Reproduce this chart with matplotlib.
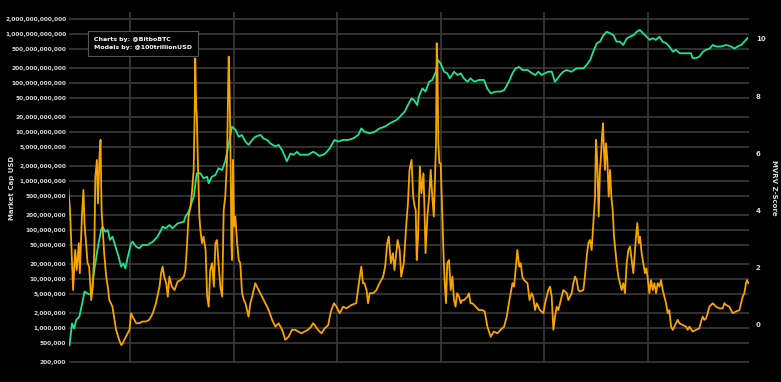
import matplotlib
matplotlib.use("Agg")
import matplotlib.pyplot as plt
import matplotlib.ticker as mticker
import numpy as np

# Market cap (USD), decimal year
cap_years = [
    2010.83, 2010.88, 2010.92, 2010.96, 2011.02, 2011.09, 2011.12, 2011.18, 2011.25, 2011.31,
    2011.37, 2011.44, 2011.47, 2011.52, 2011.57, 2011.61, 2011.66, 2011.72, 2011.76, 2011.83,
    2011.87, 2011.91, 2011.95, 2012.02, 2012.05, 2012.12, 2012.18, 2012.24, 2012.34, 2012.44,
    2012.53, 2012.60, 2012.63, 2012.69, 2012.76, 2012.82, 2012.92, 2013.04, 2013.07, 2013.13,
    2013.23, 2013.29, 2013.36, 2013.42, 2013.49, 2013.52, 2013.58, 2013.65, 2013.71, 2013.78,
    2013.84, 2013.91, 2013.97, 2014.04, 2014.10, 2014.16, 2014.23, 2014.29, 2014.36, 2014.42,
    2014.52, 2014.58, 2014.65, 2014.71, 2014.81, 2014.87, 2014.94, 2015.03, 2015.10, 2015.16,
    2015.23, 2015.28, 2015.34, 2015.44, 2015.54, 2015.60, 2015.66, 2015.76, 2015.86, 2015.95,
    2016.02, 2016.11, 2016.21, 2016.31, 2016.41, 2016.47, 2016.53, 2016.63, 2016.73, 2016.82,
    2016.92, 2017.02, 2017.08, 2017.15, 2017.21, 2017.31, 2017.37, 2017.44, 2017.49, 2017.55,
    2017.58, 2017.65, 2017.71, 2017.78, 2017.84, 2017.91, 2017.95, 2018.00, 2018.07, 2018.13,
    2018.18, 2018.26, 2018.33, 2018.39, 2018.45, 2018.52, 2018.58, 2018.65, 2018.74, 2018.84,
    2018.90, 2018.97, 2019.07, 2019.16, 2019.23, 2019.32, 2019.39, 2019.45, 2019.52, 2019.58,
    2019.68, 2019.77, 2019.83, 2019.89, 2019.95, 2020.02, 2020.08, 2020.15, 2020.21, 2020.24,
    2020.31, 2020.37, 2020.44, 2020.53, 2020.63, 2020.70, 2020.76, 2020.82, 2020.89, 2020.95,
    2021.02, 2021.08, 2021.15, 2021.21, 2021.28, 2021.34, 2021.40, 2021.47, 2021.53, 2021.60,
    2021.66, 2021.73, 2021.79, 2021.85, 2021.95, 2022.04, 2022.10, 2022.16, 2022.23, 2022.29,
    2022.36, 2022.42, 2022.49, 2022.55, 2022.62, 2022.68, 2022.74, 2022.84, 2022.87, 2022.94,
    2023.00, 2023.07, 2023.13, 2023.20, 2023.26, 2023.32, 2023.42, 2023.52, 2023.61, 2023.68,
    2023.74, 2023.81, 2023.87, 2023.93,
]
market_cap = [
    4.4e5, 1.23e6, 9.7e5, 1.44e6, 1.68e6, 3.7e6, 5.5e6, 5.0e6, 4.7e6, 1.5e7,
    3.9e7, 9.9e7, 1.16e8, 9.1e7, 9.9e7, 6.2e7, 7.2e7, 4.5e7, 3.3e7, 1.77e7,
    2.07e7, 1.63e7, 2.6e7, 5.3e7, 5.7e7, 4.5e7, 4.2e7, 4.9e7, 4.9e7, 5.7e7,
    7.2e7, 9.9e7, 1.16e8, 1.07e8, 1.25e8, 1.07e8, 1.35e8, 1.46e8, 1.85e8, 2.3e8,
    4.7e8, 1.42e9, 1.42e9, 1.12e9, 1.21e9, 8.9e8, 1.21e9, 1.31e9, 1.8e9, 1.66e9,
    2.5e9, 5.8e9, 1.27e10, 1.09e10, 7.9e9, 8.6e9, 6.3e9, 5.4e9, 6.8e9, 7.9e9,
    8.6e9, 7.3e9, 6.8e9, 5.8e9, 5.0e9, 5.4e9, 4.2e9, 2.5e9, 3.6e9, 3.4e9,
    3.9e9, 3.4e9, 3.4e9, 3.4e9, 3.9e9, 3.6e9, 3.2e9, 3.5e9, 4.6e9, 6.8e9,
    6.3e9, 6.8e9, 6.8e9, 7.3e9, 8.6e9, 1.17e10, 1.0e10, 9.3e9, 1.0e10, 1.17e10,
    1.27e10, 1.49e10, 1.6e10, 1.74e10, 2.0e10, 2.6e10, 3.5e10, 4.8e10, 4.4e10, 3.5e10,
    5.2e10, 7.7e10, 6.6e10, 1.05e11, 1.14e11, 1.68e11, 2.9e11, 2.5e11, 1.68e11, 1.56e11,
    1.23e11, 1.68e11, 1.44e11, 1.56e11, 1.23e11, 1.05e11, 1.23e11, 1.05e11, 1.14e11, 1.14e11,
    7.7e10, 6.1e10, 6.6e10, 6.6e10, 7.1e10, 1.05e11, 1.56e11, 1.97e11, 2.1e11, 1.82e11,
    1.82e11, 1.56e11, 1.44e11, 1.68e11, 1.44e11, 1.56e11, 1.68e11, 1.68e11, 1.05e11, 1.14e11,
    1.44e11, 1.68e11, 1.82e11, 1.68e11, 1.97e11, 1.97e11, 1.97e11, 2.3e11, 2.9e11, 4.3e11,
    6.4e11, 6.9e11, 9.4e11, 1.1e12, 1.02e12, 9.4e11, 6.9e11, 6.9e11, 5.9e11, 8.1e11,
    8.7e11, 9.4e11, 1.1e12, 1.19e12, 9.4e11, 7.5e11, 8.1e11, 7.5e11, 8.7e11, 6.9e11,
    6.4e11, 5.5e11, 4.3e11, 4.7e11, 4.0e11, 4.0e11, 4.0e11, 4.0e11, 3.2e11, 3.2e11,
    3.4e11, 4.3e11, 4.7e11, 5.0e11, 5.9e11, 5.5e11, 5.5e11, 5.9e11, 5.5e11, 5.0e11,
    5.5e11, 5.9e11, 6.9e11, 8.1e11,
]

# MVRV Z-Score, decimal year
z_years = [
    2010.81, 2010.84, 2010.88, 2010.90, 2010.94, 2010.97, 2011.01, 2011.03, 2011.07, 2011.10,
    2011.12, 2011.15, 2011.18, 2011.21, 2011.25, 2011.28, 2011.31, 2011.33, 2011.36, 2011.38,
    2011.41, 2011.43, 2011.45, 2011.47, 2011.50, 2011.54, 2011.57, 2011.60, 2011.63, 2011.66,
    2011.70, 2011.73, 2011.79, 2011.83, 2011.86, 2011.89, 2011.92, 2011.99, 2012.02, 2012.05,
    2012.12, 2012.18, 2012.24, 2012.31, 2012.37, 2012.44, 2012.50, 2012.57, 2012.60, 2012.63,
    2012.66, 2012.70, 2012.73, 2012.76, 2012.81, 2012.86, 2012.92, 2012.98, 2013.04, 2013.07,
    2013.10, 2013.13, 2013.17, 2013.20, 2013.23, 2013.25, 2013.26, 2013.28, 2013.29, 2013.31,
    2013.34, 2013.36, 2013.39, 2013.42, 2013.46, 2013.49, 2013.52, 2013.55, 2013.585, 2013.62,
    2013.65, 2013.68, 2013.71, 2013.745, 2013.78, 2013.81, 2013.84, 2013.875, 2013.894, 2013.907,
    2013.926, 2013.945, 2013.958, 2013.971, 2013.99, 2014.01, 2014.035, 2014.07, 2014.10, 2014.13,
    2014.165, 2014.20, 2014.23, 2014.26, 2014.29, 2014.325, 2014.36, 2014.39, 2014.42, 2014.485,
    2014.55, 2014.615, 2014.68, 2014.745, 2014.81, 2014.87, 2014.94, 2015.00, 2015.065, 2015.13,
    2015.195, 2015.25, 2015.31, 2015.375, 2015.44, 2015.50, 2015.535, 2015.57, 2015.63, 2015.70,
    2015.76, 2015.83, 2015.86, 2015.89, 2015.94, 2015.99, 2016.05, 2016.12, 2016.18, 2016.28,
    2016.37, 2016.44, 2016.47, 2016.50, 2016.53, 2016.57, 2016.60, 2016.63, 2016.70, 2016.76,
    2016.82, 2016.89, 2016.93, 2016.97, 2017.00, 2017.04, 2017.08, 2017.11, 2017.17, 2017.21,
    2017.24, 2017.29, 2017.34, 2017.37, 2017.40, 2017.44, 2017.47, 2017.50, 2017.52, 2017.54,
    2017.565, 2017.60, 2017.63, 2017.67, 2017.69, 2017.71, 2017.746, 2017.78, 2017.81, 2017.84,
    2017.87, 2017.894, 2017.913, 2017.926, 2017.939, 2017.958, 2017.977, 2018.003, 2018.03, 2018.055,
    2018.08, 2018.106, 2018.13, 2018.164, 2018.196, 2018.23, 2018.26, 2018.29, 2018.32, 2018.357,
    2018.39, 2018.42, 2018.454, 2018.52, 2018.55, 2018.58, 2018.615, 2018.68, 2018.74, 2018.81,
    2018.853, 2018.905, 2018.97, 2019.03, 2019.10, 2019.16, 2019.227, 2019.28, 2019.32, 2019.39,
    2019.42, 2019.45, 2019.484, 2019.52, 2019.55, 2019.58, 2019.613, 2019.68, 2019.72, 2019.76,
    2019.79, 2019.826, 2019.858, 2019.89, 2019.92, 2019.987, 2020.02, 2020.05, 2020.083, 2020.115,
    2020.148, 2020.18, 2020.212, 2020.244, 2020.276, 2020.31, 2020.34, 2020.373, 2020.44, 2020.47,
    2020.50, 2020.534, 2020.566, 2020.60, 2020.63, 2020.663, 2020.695, 2020.76, 2020.79, 2020.824,
    2020.856, 2020.888, 2020.92, 2020.953, 2020.985, 2021.004, 2021.017, 2021.036, 2021.056, 2021.08,
    2021.10, 2021.12, 2021.139, 2021.16, 2021.178, 2021.197, 2021.223, 2021.249, 2021.275, 2021.30,
    2021.326, 2021.352, 2021.378, 2021.403, 2021.436, 2021.468, 2021.50, 2021.532, 2021.564, 2021.597,
    2021.629, 2021.661, 2021.693, 2021.725, 2021.758, 2021.777, 2021.803, 2021.83, 2021.854, 2021.886,
    2021.919, 2021.95, 2021.975, 2022.00, 2022.035, 2022.068, 2022.10, 2022.132, 2022.164, 2022.196,
    2022.229, 2022.26, 2022.293, 2022.325, 2022.357, 2022.39, 2022.42, 2022.454, 2022.486, 2022.518,
    2022.583, 2022.615, 2022.68, 2022.744, 2022.776, 2022.808, 2022.873, 2022.937, 2023.00, 2023.034,
    2023.066, 2023.098, 2023.13, 2023.162, 2023.195, 2023.227, 2023.26, 2023.323, 2023.388, 2023.452,
    2023.484, 2023.516, 2023.58, 2023.645, 2023.71, 2023.774, 2023.806, 2023.839, 2023.87, 2023.903,
    2023.922, 2023.948,
]
z_score = [
    4.72, 4.02, 2.16, 1.22, 2.62, 1.92, 2.86, 1.81, 3.79, 4.72,
    3.56, 2.86, 2.16, 2.04, 0.87, 1.34, 2.62, 5.19, 5.77, 4.25,
    5.89, 6.47, 4.02, 3.44, 2.51, 1.69, 1.34, 0.87, 0.76, 0.64,
    0.18, -0.17, -0.52, -0.70, -0.64, -0.52, -0.41, -0.17, 0.41, 0.29,
    0.06, 0.06, 0.12, 0.12, 0.18, 0.41, 0.76, 1.34, 1.81, 2.04,
    1.69, 1.46, 0.99, 1.69, 1.34, 1.22, 1.52, 1.57, 1.69, 1.92,
    2.74, 3.79, 4.14, 4.72, 5.42, 7.52, 9.32, 7.52, 7.40, 5.77,
    3.79, 3.32, 2.86, 3.09, 2.62, 0.99, 0.64, 1.92, 2.16, 1.34,
    2.86, 2.97, 2.16, 1.34, 0.99, 4.02, 4.49, 5.77, 8.10, 9.38,
    7.98, 5.42, 2.86, 2.27, 5.77, 3.44, 3.79, 2.86, 2.27, 2.16,
    1.11, 0.87, 0.76, 0.52, 0.29, 0.76, 0.99, 1.22, 1.46, 1.22,
    0.99, 0.76, 0.52, 0.18, -0.06, 0.06, -0.17, -0.52, -0.41, -0.17,
    -0.17, -0.23, -0.29, -0.23, -0.17, -0.06, 0.06, 0.00, -0.17, -0.29,
    -0.12, 0.00, 0.29, 0.52, 0.76, 0.64, 0.41, 0.64, 0.58, 0.70,
    0.76, 1.69, 2.04, 1.46, 1.46, 1.22, 0.76, 1.11, 1.11, 1.22,
    1.46, 1.69, 2.04, 2.86, 3.09, 2.16, 2.51, 1.92, 2.97, 2.62,
    1.69, 2.16, 3.56, 4.25, 5.42, 5.77, 4.49, 4.14, 4.02, 2.27,
    3.09, 5.54, 4.60, 5.30, 4.02, 2.51, 3.79, 4.49, 5.42, 4.49,
    3.79, 5.19, 6.35, 9.85, 9.15, 6.35, 5.65, 5.65, 4.02, 2.62,
    1.46, 0.76, 2.16, 2.27, 1.22, 1.69, 0.87, 0.64, 1.11, 0.99,
    0.76, 0.87, 0.87, 0.99, 1.11, 0.76, 0.76, 0.64, 0.52, 0.52,
    0.47, -0.06, -0.41, -0.23, -0.29, -0.17, -0.06, 0.29, 0.76, 1.46,
    1.34, 1.92, 2.62, 2.04, 2.16, 1.69, 1.57, 1.46, 0.87, 1.11,
    0.99, 0.52, 0.76, 0.64, 0.52, 0.41, 0.76, 0.99, 1.22, 1.34,
    0.99, -0.17, 0.29, 0.64, 0.52, 0.76, 0.99, 1.22, 1.11, 0.87,
    0.99, 1.11, 1.46, 1.69, 1.57, 1.22, 1.17, 1.22, 1.69, 2.39,
    2.86, 2.97, 2.62, 3.56, 4.49, 6.47, 6.12, 5.19, 3.79, 5.42,
    5.89, 6.59, 7.05, 6.00, 5.42, 6.35, 5.77, 4.49, 5.42, 4.49,
    4.02, 3.09, 2.62, 2.16, 1.69, 1.46, 1.22, 1.46, 1.11, 2.16,
    2.62, 2.74, 2.27, 1.81, 2.62, 3.09, 3.56, 2.86, 3.09, 2.51,
    2.16, 1.81, 1.98, 1.69, 1.11, 1.57, 1.22, 1.46, 1.11, 1.46,
    1.34, 1.57, 1.22, 0.99, 0.76, 0.41, 0.52, -0.06, -0.17, -0.06,
    0.18, 0.06, 0.00, -0.06, -0.17, -0.06, -0.23, -0.17, -0.12, 0.12,
    0.29, 0.18, 0.23, 0.41, 0.64, 0.70, 0.76, 0.64, 0.58, 0.58,
    0.76, 0.70, 0.64, 0.41, 0.47, 0.52, 0.76, 0.99, 1.11, 1.46,
    1.57, 1.46,
]

cap_ticks = [2e5, 5e5, 1e6, 2e6, 5e6, 1e7, 2e7, 5e7, 1e8, 2e8, 5e8, 1e9, 2e9, 5e9,
             1e10, 2e10, 5e10, 1e11, 2e11, 5e11, 1e12, 2e12]
z_ticks = [0, 2, 4, 6, 8, 10]
year_grid = [2012, 2014, 2016, 2018, 2020, 2022]

ORANGE = '#f7a400'
GREEN = '#1ee394'
GRID = '#3a3a3a'
TEXT = '#d8d8d8'

plt.rcParams['font.family'] = ['DejaVu Sans']

fig = plt.figure(figsize=(7.81, 3.82), dpi=100, facecolor='black')
ax = fig.add_axes([0.0883, 0.0497, 0.8707, 0.9189])
ax.set_facecolor('black')

ax.plot(cap_years, market_cap, color=GREEN, lw=1.3, zorder=3)
ax.set_yscale('log')
ax.set_ylim(1.91e5, 2.78e12)
ax.set_xlim(2010.82, 2023.96)
ax.set_yticks(cap_ticks)
ax.yaxis.set_major_formatter(mticker.FuncFormatter(lambda v, p: f"{v:,.0f}"))
ax.yaxis.set_minor_locator(mticker.NullLocator())
ax.set_xticks(year_grid)
ax.set_xticklabels([])
ax.tick_params(axis='both', length=0, colors=TEXT, labelsize=4.2, pad=2)
for lab in ax.get_yticklabels():
    lab.set_fontweight('bold')
ax.grid(True, axis='both', color=GRID, lw=1.2)
ax.set_axisbelow(True)
for s in ax.spines.values():
    s.set_visible(False)
ax.set_ylabel("Market Cap USD", color=TEXT, fontsize=5, fontweight='bold')
ax.yaxis.set_label_coords(-0.08, 0.5)

ax2 = ax.twinx()
ax2.plot(z_years, z_score, color=ORANGE, lw=1.3, zorder=4)
ax2.set_ylim(-1.33, 10.94)
ax2.set_yticks(z_ticks)
ax2.tick_params(axis='y', length=0, colors=TEXT, labelsize=5, pad=5)
for lab in ax2.get_yticklabels():
    lab.set_fontweight('bold')
for s in ax2.spines.values():
    s.set_visible(False)
ax2.set_ylabel("MVRV Z-Score", color=TEXT, fontsize=5, fontweight='bold', rotation=-90, labelpad=8)

ax.text(0.037, 0.93, "Charts by: @BitboBTC\nModels by: @100trillionUSD", transform=ax.transAxes,
        color='white', fontsize=4.5, fontweight='bold', va='top', ha='left', linespacing=1.9,
        bbox=dict(boxstyle='square,pad=0.9', facecolor='black', edgecolor='#555555', lw=0.8),
        zorder=10)

fig.savefig("out.png", dpi=100, facecolor='black')
